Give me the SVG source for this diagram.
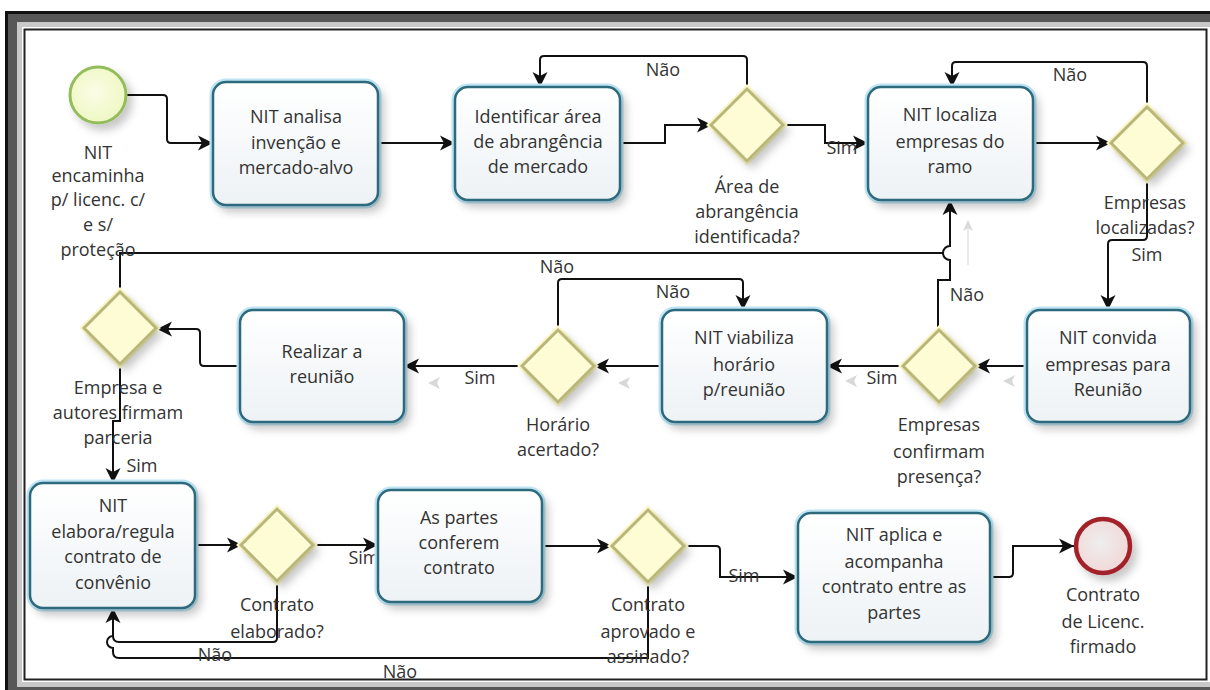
<svg xmlns="http://www.w3.org/2000/svg" width="1210" height="690" viewBox="0 0 1210 690">
<defs>
<style>
.t{font-family:"Open Sans","Liberation Sans",sans-serif;font-size:18px;fill:#333;text-anchor:middle}
.c{fill:none;stroke:#111;stroke-width:2}
.ca{fill:none;stroke:#111;stroke-width:2;marker-end:url(#ah)}
.bx{fill:url(#bg);stroke:#2d6a7d;stroke-width:2.5}
.bxg{fill:none;stroke:#bfe6f5;stroke-width:7}
.gw{fill:#fdfcd4;stroke:#b8b678;stroke-width:3}
.gwg{fill:none;stroke:#fbf6c8;stroke-width:7}
.ghost{fill:#d8d8d8}
</style>
<linearGradient id="bg" x1="0" y1="0" x2="0" y2="1">
<stop offset="0" stop-color="#ffffff"/>
<stop offset="1" stop-color="#edf2f5"/>
</linearGradient>
<radialGradient id="sg" cx="0.45" cy="0.45" r="0.6">
<stop offset="0" stop-color="#fbfde6"/>
<stop offset="1" stop-color="#eef7c0"/>
</radialGradient>
<radialGradient id="eg" cx="0.45" cy="0.45" r="0.6">
<stop offset="0" stop-color="#eeeeee"/>
<stop offset="1" stop-color="#f2d6d6"/>
</radialGradient>
<filter id="sh" x="-20%" y="-20%" width="150%" height="150%">
<feDropShadow dx="5" dy="6" stdDeviation="4" flood-color="#000" flood-opacity="0.22"/>
</filter>
<marker id="ah" markerUnits="userSpaceOnUse" markerWidth="18" markerHeight="18" viewBox="-1 -9 17 18" refX="15" refY="0" orient="auto">
<path d="M0,-7.5 L15,0 L0,7.5 L4,0 z" fill="#111"/>
</marker>
</defs>

<rect x="0" y="0" width="1210" height="690" fill="#fff"/>
<g id="frame">
<rect x="5" y="11" width="1205" height="679" fill="#111"/>
<rect x="8" y="14" width="1202" height="676" fill="#575757"/>
<rect x="17" y="22" width="1193" height="665" fill="#c8c8c8"/>
<rect x="22" y="27" width="1188" height="655" fill="#fff"/>
<rect x="24.5" y="29.5" width="1182" height="650" fill="none" stroke="#222" stroke-width="2"/>
</g>

<g id="ghosts">
<path class="ghost" d="M428,383 l12,-6 l-3,6 l3,6 z"/>
<path class="ghost" d="M618,383 l12,-6 l-3,6 l3,6 z"/>
<path class="ghost" d="M845,381 l12,-6 l-3,6 l3,6 z"/>
<path class="ghost" d="M1003,381 l12,-6 l-3,6 l3,6 z"/>
<path class="ghost" d="M968,220 l-5,11 l5,-3 l5,3 z"/>
<line x1="968" y1="226" x2="968" y2="265" stroke="#e2e2e2" stroke-width="1.5"/>
</g>

<g id="connectors">
<path class="ca" d="M126,95 H163 Q167,95 167,99 V139 Q167,143 171,143 H213"/>
<path class="ca" d="M378,143 H455"/>
<path class="ca" d="M620,143 H665 V125 H712"/>
<path class="ca" d="M747,89 V60 Q747,56 743,56 H544 Q540,56 540,60 V87"/>
<path class="ca" d="M783,125 H825 V143 H868"/>
<path class="ca" d="M1033,143 H1111"/>
<path class="ca" d="M1147,107 V66 Q1147,62 1143,62 H956 Q952,62 952,66 V87"/>
<path class="ca" d="M1147,179 V236 Q1147,240 1143,240 H1112 Q1108,240 1108,244 V310"/>
<path class="ca" d="M1027,366 H975"/>
<path class="ca" d="M903,366 H827"/>
<path class="ca" d="M938,330 V280 H950 V260 A7,7 0 0 1 950,246 V200"/>
<path class="c" d="M120,292 V253 H943"/>
<path class="ca" d="M662,366 H594"/>
<path class="ca" d="M558,330 V283 Q558,279 562,279 H739 Q743,279 743,283 V310"/>
<path class="ca" d="M522,366 H404"/>
<path class="ca" d="M240,366 H204 Q200,366 200,362 V333 Q200,329 196,329 H157"/>
<path class="ca" d="M120,365 V421 H113 V483"/>
<path class="ca" d="M195,545 H242"/>
<path class="ca" d="M313,545 H378"/>
<path class="ca" d="M277,582 V638 Q277,642 273,642 H119 Q113,642 113,636 V608"/>
<path class="c" d="M648,582 V658 H119 Q113,658 113,652 V648 A6,6 0 0 1 113,636"/>
<path class="ca" d="M542,546 H612"/>
<path class="ca" d="M685,546 H716 Q720,546 720,550 V577 H798"/>
<path class="ca" d="M990,577 H1009 Q1013,577 1013,573 V546 H1074"/>
</g>

<g id="labels">
<text class="t" x="663" y="76">Não</text>
<text class="t" x="842" y="154">Sim</text>
<text class="t" x="1070" y="81">Não</text>
<text class="t" x="1147" y="261">Sim</text>
<text class="t" x="967" y="301">Não</text>
<text class="t" x="882" y="384">Sim</text>
<text class="t" x="673" y="298">Não</text>
<text class="t" x="557" y="273">Não</text>
<text class="t" x="480" y="384">Sim</text>
<text class="t" x="142" y="472">Sim</text>
<text class="t" x="364" y="564">Sim</text>
<text class="t" x="215" y="661">Não</text>
<text class="t" x="400" y="678">Não</text>
<text class="t" x="744" y="582">Sim</text>
</g>

<g id="start">
<circle cx="98" cy="95" r="28" fill="url(#sg)" stroke="#93bd5c" stroke-width="3" filter="url(#sh)"/>
<text class="t" x="98"><tspan x="98" y="159">NIT</tspan><tspan x="98" y="182">encaminha</tspan><tspan x="98" y="206">p/ licenc. c/</tspan><tspan x="98" y="231">e s/</tspan><tspan x="98" y="256">proteção</tspan></text>
</g>

<g id="t1">
<rect class="bxg" x="213" y="82" width="165" height="123" rx="13"/>
<rect class="bx" x="213" y="82" width="165" height="123" rx="13" filter="url(#sh)"/>
<text class="t"><tspan x="296" y="123">NIT analisa</tspan><tspan x="296" y="149">invenção e</tspan><tspan x="296" y="174">mercado-alvo</tspan></text>
</g>

<g id="t2">
<rect class="bxg" x="455" y="87" width="165" height="113" rx="13"/>
<rect class="bx" x="455" y="87" width="165" height="113" rx="13" filter="url(#sh)"/>
<text class="t"><tspan x="538" y="123">Identificar área</tspan><tspan x="538" y="148">de abrangência</tspan><tspan x="538" y="173">de mercado</tspan></text>
</g>

<g id="g1">
<path class="gwg" d="M747,89 L783,125 L747,161 L711,125 z"/>
<path class="gw" d="M747,89 L783,125 L747,161 L711,125 z" filter="url(#sh)"/>
<text class="t"><tspan x="747" y="193">Área de</tspan><tspan x="747" y="218">abrangência</tspan><tspan x="747" y="243">identificada?</tspan></text>
</g>

<g id="t3">
<rect class="bxg" x="868" y="87" width="165" height="113" rx="13"/>
<rect class="bx" x="868" y="87" width="165" height="113" rx="13" filter="url(#sh)"/>
<text class="t"><tspan x="950" y="121">NIT localiza</tspan><tspan x="950" y="148">empresas do</tspan><tspan x="950" y="173">ramo</tspan></text>
</g>

<g id="g2">
<path class="gwg" d="M1147,107 L1183,143 L1147,179 L1111,143 z"/>
<path class="gw" d="M1147,107 L1183,143 L1147,179 L1111,143 z" filter="url(#sh)"/>
<text class="t"><tspan x="1145" y="209">Empresas</tspan><tspan x="1145" y="234">localizadas?</tspan></text>
</g>

<g id="t4">
<rect class="bxg" x="1027" y="310" width="163" height="112" rx="13"/>
<rect class="bx" x="1027" y="310" width="163" height="112" rx="13" filter="url(#sh)"/>
<text class="t"><tspan x="1108" y="344">NIT convida</tspan><tspan x="1108" y="371">empresas para</tspan><tspan x="1108" y="396">Reunião</tspan></text>
</g>

<g id="g3">
<path class="gwg" d="M939,330 L975,366 L939,402 L903,366 z"/>
<path class="gw" d="M939,330 L975,366 L939,402 L903,366 z" filter="url(#sh)"/>
<text class="t"><tspan x="939" y="431">Empresas</tspan><tspan x="939" y="458">confirmam</tspan><tspan x="939" y="483">presença?</tspan></text>
</g>

<g id="t5">
<rect class="bxg" x="662" y="310" width="165" height="112" rx="13"/>
<rect class="bx" x="662" y="310" width="165" height="112" rx="13" filter="url(#sh)"/>
<text class="t"><tspan x="744" y="344">NIT viabiliza</tspan><tspan x="744" y="371">horário</tspan><tspan x="744" y="396">p/reunião</tspan></text>
</g>

<g id="g4">
<path class="gwg" d="M558,330 L594,366 L558,402 L522,366 z"/>
<path class="gw" d="M558,330 L594,366 L558,402 L522,366 z" filter="url(#sh)"/>
<text class="t"><tspan x="558" y="431">Horário</tspan><tspan x="558" y="456">acertado?</tspan></text>
</g>

<g id="t6">
<rect class="bxg" x="240" y="310" width="164" height="112" rx="13"/>
<rect class="bx" x="240" y="310" width="164" height="112" rx="13" filter="url(#sh)"/>
<text class="t"><tspan x="322" y="358">Realizar a</tspan><tspan x="322" y="383">reunião</tspan></text>
</g>

<g id="g5">
<path class="gwg" d="M120,292 L156,328 L120,364 L84,328 z"/>
<path class="gw" d="M120,292 L156,328 L120,364 L84,328 z" filter="url(#sh)"/>
<text class="t"><tspan x="118" y="394">Empresa e</tspan><tspan x="118" y="419">autores firmam</tspan><tspan x="118" y="444">parceria</tspan></text>
</g>

<g id="t7">
<rect class="bxg" x="30" y="483" width="165" height="125" rx="13"/>
<rect class="bx" x="30" y="483" width="165" height="125" rx="13" filter="url(#sh)"/>
<text class="t"><tspan x="113" y="512">NIT</tspan><tspan x="113" y="538">elabora/regula</tspan><tspan x="113" y="563">contrato de</tspan><tspan x="113" y="589">convênio</tspan></text>
</g>

<g id="g6">
<path class="gwg" d="M277,509 L313,545 L277,581 L241,545 z"/>
<path class="gw" d="M277,509 L313,545 L277,581 L241,545 z" filter="url(#sh)"/>
<text class="t"><tspan x="277" y="611">Contrato</tspan><tspan x="277" y="638">elaborado?</tspan></text>
</g>

<g id="t8">
<rect class="bxg" x="378" y="490" width="164" height="112" rx="13"/>
<rect class="bx" x="378" y="490" width="164" height="112" rx="13" filter="url(#sh)"/>
<text class="t"><tspan x="459" y="524">As partes</tspan><tspan x="459" y="549">conferem</tspan><tspan x="459" y="574">contrato</tspan></text>
</g>

<g id="g7">
<path class="gwg" d="M648,510 L684,546 L648,582 L612,546 z"/>
<path class="gw" d="M648,510 L684,546 L648,582 L612,546 z" filter="url(#sh)"/>
<text class="t"><tspan x="648" y="611">Contrato</tspan><tspan x="648" y="638">aprovado e</tspan><tspan x="648" y="663">assinado?</tspan></text>
</g>

<g id="t9">
<rect class="bxg" x="798" y="513" width="192" height="129" rx="13"/>
<rect class="bx" x="798" y="513" width="192" height="129" rx="13" filter="url(#sh)"/>
<text class="t"><tspan x="894" y="541">NIT aplica e</tspan><tspan x="894" y="568">acompanha</tspan><tspan x="894" y="593">contrato entre as</tspan><tspan x="894" y="619">partes</tspan></text>
</g>

<g id="end">
<circle cx="1103" cy="546" r="27" fill="url(#eg)" stroke="#a3222b" stroke-width="4.5" filter="url(#sh)"/>
<text class="t"><tspan x="1103" y="601">Contrato</tspan><tspan x="1103" y="628">de Licenc.</tspan><tspan x="1103" y="653">firmado</tspan></text>
</g>
</svg>
